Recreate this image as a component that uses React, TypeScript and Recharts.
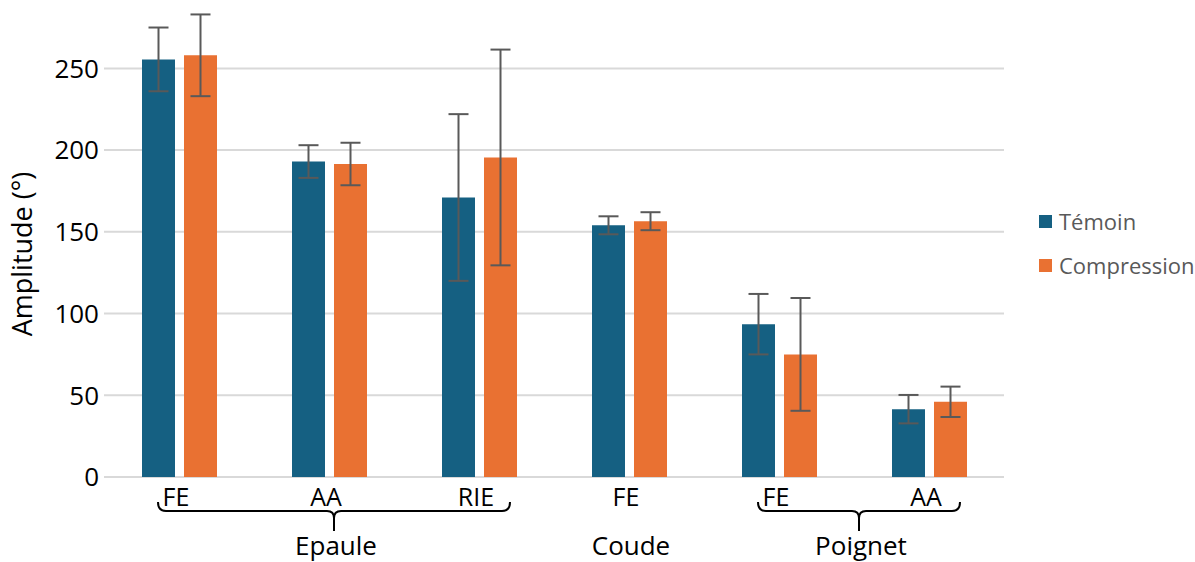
import { BarChart, Bar, XAxis, YAxis, CartesianGrid, ErrorBar, Label } from 'recharts';

const categories = ['FE', 'AA', 'RIE', 'FE', 'FE', 'AA'];
const groups = ['Epaule', 'Epaule', 'Epaule', 'Coude', 'Poignet', 'Poignet'];
const temoin = [255.5, 193, 171, 154, 93.5, 41.5];
const temoinSd = [19.5, 10, 51, 5.5, 18.5, 8.7];
const compression = [258, 191.5, 195.5, 156.5, 75, 46];
const compressionSd = [25, 13, 66, 5.5, 34.5, 9.3];
const yTicks = [0, 50, 100, 150, 200, 250];
const Y_MAX = 290;

const data = categories.map((name, i) => ({
  name,
  group: groups[i],
  temoin: temoin[i],
  temoinSd: temoinSd[i],
  compression: compression[i],
  compressionSd: compressionSd[i],
}));

const W = 1195;
const H = 562;
const MARGIN = { top: 3, right: 191, bottom: 0, left: 0 };
const Y_W = 104;
const STEP = (W - MARGIN.left - MARGIN.right - Y_W) / categories.length;
const FONT = '"Open Sans", sans-serif';
const BLUE = '#156082';
const ORANGE = '#E97132';

function CategoryTick(props: any) {
  const { x, y, payload } = props;
  const i = props.index ?? payload.index;
  const isFirst = i === 0 || groups[i - 1] !== groups[i];
  let extra = null;
  if (isFirst) {
    let j = i;
    while (j + 1 < groups.length && groups[j + 1] === groups[i]) j++;
    const lastX = x + (j - i) * STEP;
    if (j > i) {
      const l = x - 21;
      const r = lastX + 31;
      const c = (l + r) / 2;
      const top = y + 25;
      const mid = y + 34;
      const bot = y + 54;
      const d = `M${l},${top} Q${l},${mid} ${l + 8},${mid} L${c - 7},${mid} Q${c},${mid} ${c},${mid + 7} L${c},${bot} M${c},${mid + 7} Q${c},${mid} ${c + 7},${mid} L${r - 8},${mid} Q${r},${mid} ${r},${top}`;
      extra = (
        <g>
          <path d={d} fill="none" stroke="#000" strokeWidth={2} />
          <text x={c + 2} y={y + 78} textAnchor="middle" fontSize={26} fontFamily={FONT} fill="#000">
            {groups[i]}
          </text>
        </g>
      );
    } else {
      extra = (
        <text x={x + 2} y={y + 78} textAnchor="middle" fontSize={26} fontFamily={FONT} fill="#000">
          {groups[i]}
        </text>
      );
    }
  }
  return (
    <g>
      <text x={x - 3} y={y + 29} textAnchor="middle" fontSize={25} fontFamily={FONT} fill="#000">
        {payload.value}
      </text>
      {extra}
    </g>
  );
}

function YLabel(props: any) {
  const vb = props.viewBox;
  const x = vb.x + 32;
  const y = vb.y + vb.height / 2 + 14;
  return (
    <text
      x={x}
      y={y}
      transform={`rotate(-90 ${x} ${y})`}
      textAnchor="middle"
      fontSize={27}
      fontFamily={FONT}
      fill="#000"
    >
      Amplitude (°)
    </text>
  );
}

export default function App() {
  return (
    <div style={{ position: 'absolute', left: 0, top: 0, width: W, height: H, fontFamily: FONT, background: '#fff' }}>
      <BarChart width={W} height={H} data={data} margin={MARGIN} barSize={33} barGap={9}>
        <CartesianGrid
          vertical={false}
          stroke="#d9d9d9"
          strokeWidth={2}
          horizontalCoordinatesGenerator={({ offset }: any) =>
            yTicks.map((t) => offset.top + offset.height * (1 - t / Y_MAX))
          }
        />
        <XAxis
          dataKey="name"
          interval={0}
          axisLine={false}
          tickLine={false}
          tickSize={0}
          tickMargin={0}
          height={85}
          tick={<CategoryTick />}
        />
        <YAxis
          width={Y_W}
          domain={[0, Y_MAX]}
          ticks={yTicks}
          axisLine={false}
          tickLine={false}
          tickSize={0}
          tickMargin={5}
          tick={{ fontSize: 26, fill: '#000', fontFamily: FONT }}
        >
          <Label content={<YLabel />} />
        </YAxis>
        <Bar dataKey="temoin" fill={BLUE} isAnimationActive={false}>
          <ErrorBar dataKey="temoinSd" width={10} stroke="#595959" strokeWidth={2} isAnimationActive={false} />
        </Bar>
        <Bar dataKey="compression" fill={ORANGE} isAnimationActive={false}>
          <ErrorBar dataKey="compressionSd" width={10} stroke="#595959" strokeWidth={2} isAnimationActive={false} />
        </Bar>
      </BarChart>
      <div style={{ position: 'absolute', left: 1039, top: 199, color: '#595959', fontSize: 22, lineHeight: '44px' }}>
        <div style={{ display: 'flex', alignItems: 'center' }}>
          <span style={{ width: 13, height: 13, background: BLUE, display: 'inline-block', marginRight: 7 }} />
          Témoin
        </div>
        <div style={{ display: 'flex', alignItems: 'center' }}>
          <span style={{ width: 13, height: 13, background: ORANGE, display: 'inline-block', marginRight: 7 }} />
          Compression
        </div>
      </div>
    </div>
  );
}
